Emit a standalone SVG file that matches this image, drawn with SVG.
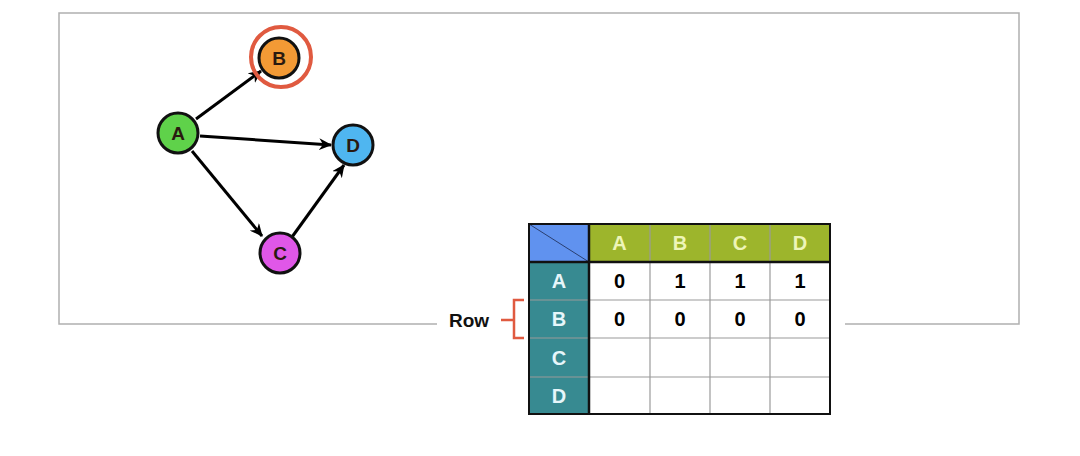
<svg xmlns="http://www.w3.org/2000/svg" width="1080" height="456" viewBox="0 0 1080 456">
<style>
.frame{fill:none;stroke:#b0b0b0;stroke-width:1.5}
.node{stroke:#111;stroke-width:3}
.nl{font-family:"Liberation Sans",Arial,sans-serif;font-weight:bold;font-size:19px;fill:#2a1a10;text-anchor:middle;dominant-baseline:central}
.edge{stroke:#000;stroke-width:3;fill:none;marker-end:url(#ah)}
.hd{font-family:"Liberation Sans",Arial,sans-serif;font-weight:bold;font-size:20px;fill:#eef5b8;text-anchor:middle;dominant-baseline:central}
.rh{font-family:"Liberation Sans",Arial,sans-serif;font-weight:bold;font-size:20px;fill:#e6f6fa;text-anchor:middle;dominant-baseline:central}
.cv{font-family:"Liberation Sans",Arial,sans-serif;font-weight:bold;font-size:20px;fill:#000;text-anchor:middle;dominant-baseline:central}
.grid{stroke:#9a9a9a;stroke-width:1.2}
</style>
<defs>
<marker id="ah" markerWidth="14" markerHeight="12" refX="12" refY="6" orient="auto" markerUnits="userSpaceOnUse">
<path d="M0,0 L13,6 L0,12 L4,6 z" fill="#000"/>
</marker>
</defs>
<rect width="1080" height="456" fill="#fff"/>
<g id="frame">
<path class="frame" d="M437,324 L59,324 L59,13 L1019,13 L1019,324 L845,324"/>
</g>
<g id="connectors">
<line class="edge" x1="196" y1="119" x2="261" y2="71"/>
<line class="edge" x1="200" y1="136" x2="331" y2="145"/>
<line class="edge" x1="192" y1="151" x2="262" y2="236"/>
<line class="edge" x1="292" y1="237" x2="344" y2="165"/>
</g>
<g id="node-B">
<circle cx="281" cy="57" r="30" fill="none" stroke="#e05a40" stroke-width="4"/>
<circle class="node" cx="279" cy="58" r="20" fill="#f39a35"/>
<text class="nl" x="279" y="58">B</text>
</g>
<g id="node-A">
<circle class="node" cx="178" cy="133" r="20" fill="#5fd24a"/>
<text class="nl" x="178" y="133">A</text>
</g>
<g id="node-D">
<circle class="node" cx="353" cy="145" r="20" fill="#4fb6f0"/>
<text class="nl" x="353" y="145">D</text>
</g>
<g id="node-C">
<circle class="node" cx="280" cy="253" r="20" fill="#e057e8"/>
<text class="nl" x="280" y="253">C</text>
</g>
<g id="table">
<rect x="529" y="224" width="60" height="38" fill="#6092ef"/>
<line x1="529" y1="224" x2="589" y2="262" stroke="#2a3f70" stroke-width="1"/>
<rect x="589" y="224" width="241" height="38" fill="#9db52c"/>
<rect x="529" y="262" width="60" height="152" fill="#378a91"/>
<rect x="589" y="262" width="241" height="152" fill="#fff"/>
<g class="grid">
<line x1="650" y1="224" x2="650" y2="414"/>
<line x1="710" y1="224" x2="710" y2="414"/>
<line x1="770" y1="224" x2="770" y2="414"/>
<line x1="529" y1="300" x2="830" y2="300"/>
<line x1="529" y1="338" x2="830" y2="338"/>
<line x1="529" y1="377" x2="830" y2="377"/>
</g>
<line x1="529" y1="262" x2="830" y2="262" stroke="#111" stroke-width="2.5"/>
<line x1="589" y1="224" x2="589" y2="414" stroke="#111" stroke-width="2.5"/>
<rect x="529" y="224" width="301" height="190" fill="none" stroke="#111" stroke-width="2"/>
<text class="hd" x="619.5" y="243">A</text>
<text class="hd" x="680" y="243">B</text>
<text class="hd" x="740" y="243">C</text>
<text class="hd" x="800" y="243">D</text>
<text class="rh" x="559" y="281">A</text>
<text class="rh" x="559" y="319">B</text>
<text class="rh" x="559" y="357.5">C</text>
<text class="rh" x="559" y="395.5">D</text>
<text class="cv" x="619.5" y="281">0</text>
<text class="cv" x="680" y="281">1</text>
<text class="cv" x="740" y="281">1</text>
<text class="cv" x="800" y="281">1</text>
<text class="cv" x="619.5" y="319">0</text>
<text class="cv" x="680" y="319">0</text>
<text class="cv" x="740" y="319">0</text>
<text class="cv" x="800" y="319">0</text>
</g>
<g id="row-label">
<text x="469" y="320" font-family="'Liberation Sans',Arial,sans-serif" font-weight="bold" font-size="19" fill="#111" text-anchor="middle" dominant-baseline="central">Row</text>
<path d="M524,300 L514,300 L514,338 L524,338 M501,320 L514,320" fill="none" stroke="#e05a40" stroke-width="2.5"/>
</g>
</svg>
